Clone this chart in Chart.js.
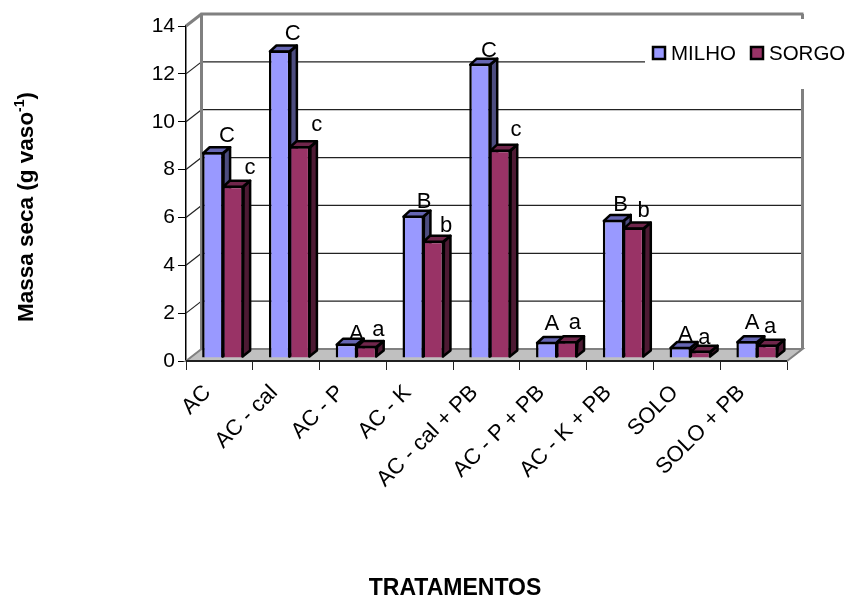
<!DOCTYPE html>
<html>
<head>
<meta charset="utf-8">
<title>Massa seca</title>
<script src="https://cdn.jsdelivr.net/npm/chart.js@4/dist/chart.umd.min.js"></script>
<style>
  html, body { margin: 0; padding: 0; background: #fff; }
  canvas { display: block; }
</style>
</head>
<body>
<canvas id="chartjs_bar" width="848" height="598"></canvas>
<script>
'use strict';

var categories = ['AC', 'AC - cal', 'AC - P', 'AC - K', 'AC - cal + PB', 'AC - P + PB', 'AC - K + PB', 'SOLO', 'SOLO + PB'];
var milho = [8.6, 12.85, 0.6, 5.95, 12.3, 0.67, 5.77, 0.46, 0.7];
var sorgo = [7.2, 8.85, 0.5, 4.9, 8.7, 0.7, 5.45, 0.3, 0.55];
var milhoLetters = ['C', 'C', 'A', 'B', 'C', 'A', 'B', 'A', 'A'];
var sorgoLetters = ['c', 'c', 'a', 'b', 'c', 'a', 'b', 'a', 'a'];

// letter offsets from the top of each bar, placed by hand
var milhoNudge = [[14, -16], [13, -17], [10, -10], [11, -14], [9, -13], [5, -18], [7, -15], [5, -12], [5, -18]];
var sorgoNudge = [[17, -18], [17, -21], [12, -16], [13, -15], [16, -20], [8, -18], [10, -17], [4, -13], [3, -18]];

var FONT = '"Liberation Sans", Arial, sans-serif';
var WALL_DX = 15.5, WALL_DY = 12;      // back wall relative to the front axes
var BAR_DX = 6.5, BAR_DY = 6;          // depth of a column
var SHIFT_X = 3.5, SHIFT_Y = -3;       // columns stand on the floor, not on the axis
var sideColors = ['#4d4d80', '#4d1a33'];
var topColors = ['#6666b3', '#70264b'];

function poly(ctx, pts, fill) {
    ctx.beginPath();
    ctx.moveTo(pts[0][0], pts[0][1]);
    for (var i = 1; i < pts.length; i++) ctx.lineTo(pts[i][0], pts[i][1]);
    ctx.closePath();
    if (fill) { ctx.fillStyle = fill; ctx.fill(); }
    ctx.stroke();
}

function line(ctx, x1, y1, x2, y2) {
    ctx.beginPath();
    ctx.moveTo(x1, y1);
    ctx.lineTo(x2, y2);
    ctx.stroke();
}

// walls, floor and gridlines behind the columns
var roomPlugin = {
    id: 'room',
    beforeDatasetsDraw: function(chart) {
        var ctx = chart.ctx, a = chart.chartArea, y = chart.scales.y;
        var backL = a.left + WALL_DX, backR = a.right + WALL_DX;
        ctx.save();
        ctx.strokeStyle = '#808080';
        ctx.lineWidth = 2;
        poly(ctx, [[a.left, a.bottom], [backL, a.bottom - WALL_DY], [backR, a.bottom - WALL_DY], [a.right, a.bottom]], '#c0c0c0');

        ctx.strokeStyle = '#222';
        ctx.lineWidth = 1.2;
        y.ticks.forEach(function(t) {
            var py = y.getPixelForValue(t.value);
            if (t.value > 0 && t.value < 14) {
                line(ctx, backL, py - WALL_DY, backR, py - WALL_DY);
                line(ctx, a.left, py, backL, py - WALL_DY);
            }
        });

        ctx.strokeStyle = '#808080';
        ctx.lineWidth = 3;
        line(ctx, a.left, a.top, backL, a.top - WALL_DY);
        line(ctx, backL, a.top - WALL_DY, backL, a.bottom - WALL_DY);
        line(ctx, backL - 1, a.top - WALL_DY, backR + 1, a.top - WALL_DY);
        line(ctx, backR, a.top - WALL_DY, backR, a.bottom - WALL_DY);

        // front axes again, the floor edge runs over them
        ctx.strokeStyle = '#000';
        ctx.lineWidth = 1.5;
        line(ctx, a.left, a.bottom, a.right, a.bottom);
        ctx.restore();
    }
};

// columns with depth, SORGO goes over the side of MILHO
var columnsPlugin = {
    id: 'columns',
    beforeDatasetDraw: function() {
        return false;
    },
    afterDatasetsDraw: function(chart) {
        var ctx = chart.ctx;
        ctx.save();
        ctx.translate(SHIFT_X, SHIFT_Y);
        ctx.lineJoin = 'round';
        [0, 1].forEach(function(d) {
            chart.getDatasetMeta(d).data.forEach(function(el) {
                var l = el.x - el.width / 2, r = el.x + el.width / 2;
                var t = el.y + 1, b = el.base - 1;
                ctx.strokeStyle = '#000';
                ctx.lineWidth = 2.5;
                poly(ctx, [[r, t], [r + BAR_DX, t - BAR_DY], [r + BAR_DX, b - BAR_DY], [r - 1, b]], sideColors[d]);
                poly(ctx, [[l + 1, t], [l + 1 + BAR_DX, t - BAR_DY], [r + BAR_DX, t - BAR_DY], [r - 1, t]], topColors[d]);
                el.draw(ctx);
            });
        });

        ctx.fillStyle = '#000';
        ctx.font = '22px ' + FONT;
        ctx.textAlign = 'center';
        ctx.textBaseline = 'middle';
        [[milhoLetters, milhoNudge], [sorgoLetters, sorgoNudge]].forEach(function(set, d) {
            chart.getDatasetMeta(d).data.forEach(function(el, i) {
                ctx.fillText(set[0][i], el.x + set[1][i][0], el.y + set[1][i][1]);
            });
        });
        ctx.restore();
    }
};

// legend sits on a white box that cuts the gridline and the right wall
var legendPlugin = {
    id: 'legendBox',
    afterDraw: function(chart) {
        var ctx = chart.ctx;
        ctx.save();
        ctx.fillStyle = '#fff';
        ctx.fillRect(645, 19, 203, 70);
        ctx.font = '20.5px ' + FONT;
        ctx.textBaseline = 'middle';
        ctx.textAlign = 'left';
        var xs = [653, 751];
        chart.data.datasets.forEach(function(ds, i) {
            ctx.fillStyle = ds.backgroundColor;
            ctx.strokeStyle = '#000';
            ctx.lineWidth = 2.5;
            ctx.fillRect(xs[i], 47, 12, 12);
            ctx.strokeRect(xs[i], 47, 12, 12);
            ctx.fillStyle = '#000';
            ctx.fillText(ds.label, xs[i] + 18, 54);
        });
        ctx.restore();
    }
};

// axis titles: the y one has a superscript, so it is set in pieces
var titlesPlugin = {
    id: 'axisTitles',
    afterDraw: function(chart) {
        var ctx = chart.ctx;
        ctx.save();
        ctx.fillStyle = '#000';
        ctx.textAlign = 'center';
        ctx.textBaseline = 'middle';
        ctx.font = 'bold 23px ' + FONT;
        ctx.fillText('TRATAMENTOS', 455, 589);

        ctx.translate(33, 322);
        ctx.rotate(-Math.PI / 2);
        ctx.textAlign = 'left';
        ctx.textBaseline = 'alphabetic';
        ctx.font = 'bold 22.5px ' + FONT;
        var x = 0;
        ctx.fillText('Massa seca (g vaso', x, 0);
        x += ctx.measureText('Massa seca (g vaso').width;
        ctx.font = 'bold 14px ' + FONT;
        ctx.fillText('-1', x, -9);
        x += ctx.measureText('-1').width;
        ctx.font = 'bold 22.5px ' + FONT;
        ctx.fillText(')', x, 0);
        ctx.restore();
    }
};

var ctx = document.getElementById('chartjs_bar').getContext('2d');
window.myBar = new Chart(ctx, {
    type: 'bar',
    data: {
        labels: categories,
        datasets: [{
            label: 'MILHO',
            data: milho,
            backgroundColor: '#9999ff',
            borderColor: '#000',
            borderWidth: 2.5
        }, {
            label: 'SORGO',
            data: sorgo,
            backgroundColor: '#993366',
            borderColor: '#000',
            borderWidth: 2.5
        }]
    },
    plugins: [roomPlugin, columnsPlugin, legendPlugin, titlesPlugin],
    options: {
        responsive: false,
        animation: false,
        events: [],
        categoryPercentage: 0.6,
        barPercentage: 1.07,
        layout: { padding: { left: 0, right: 61, top: 26, bottom: 0 } },
        plugins: {
            legend: { display: false },
            title: { display: false },
            tooltip: { enabled: false }
        },
        scales: {
            x: {
                afterFit: function(scale) { scale.height = 237; },
                grid: { drawOnChartArea: false, color: '#222', tickLength: 9, offset: true },
                border: { color: '#000', width: 1.5 },
                ticks: {
                    color: '#000',
                    font: { family: FONT, size: 22 },
                    minRotation: 45,
                    maxRotation: 45,
                    autoSkip: false,
                    padding: 10,
                    labelOffset: -12
                }
            },
            y: {
                min: 0,
                max: 14,
                afterFit: function(scale) { scale.width = 186; },
                grid: { drawOnChartArea: false, color: '#000', tickLength: 8 },
                border: { color: '#000', width: 1.5 },
                ticks: {
                    stepSize: 2,
                    color: '#000',
                    font: { family: FONT, size: 21 },
                    padding: 3
                }
            }
        }
    }
});
</script>
</body>
</html>
